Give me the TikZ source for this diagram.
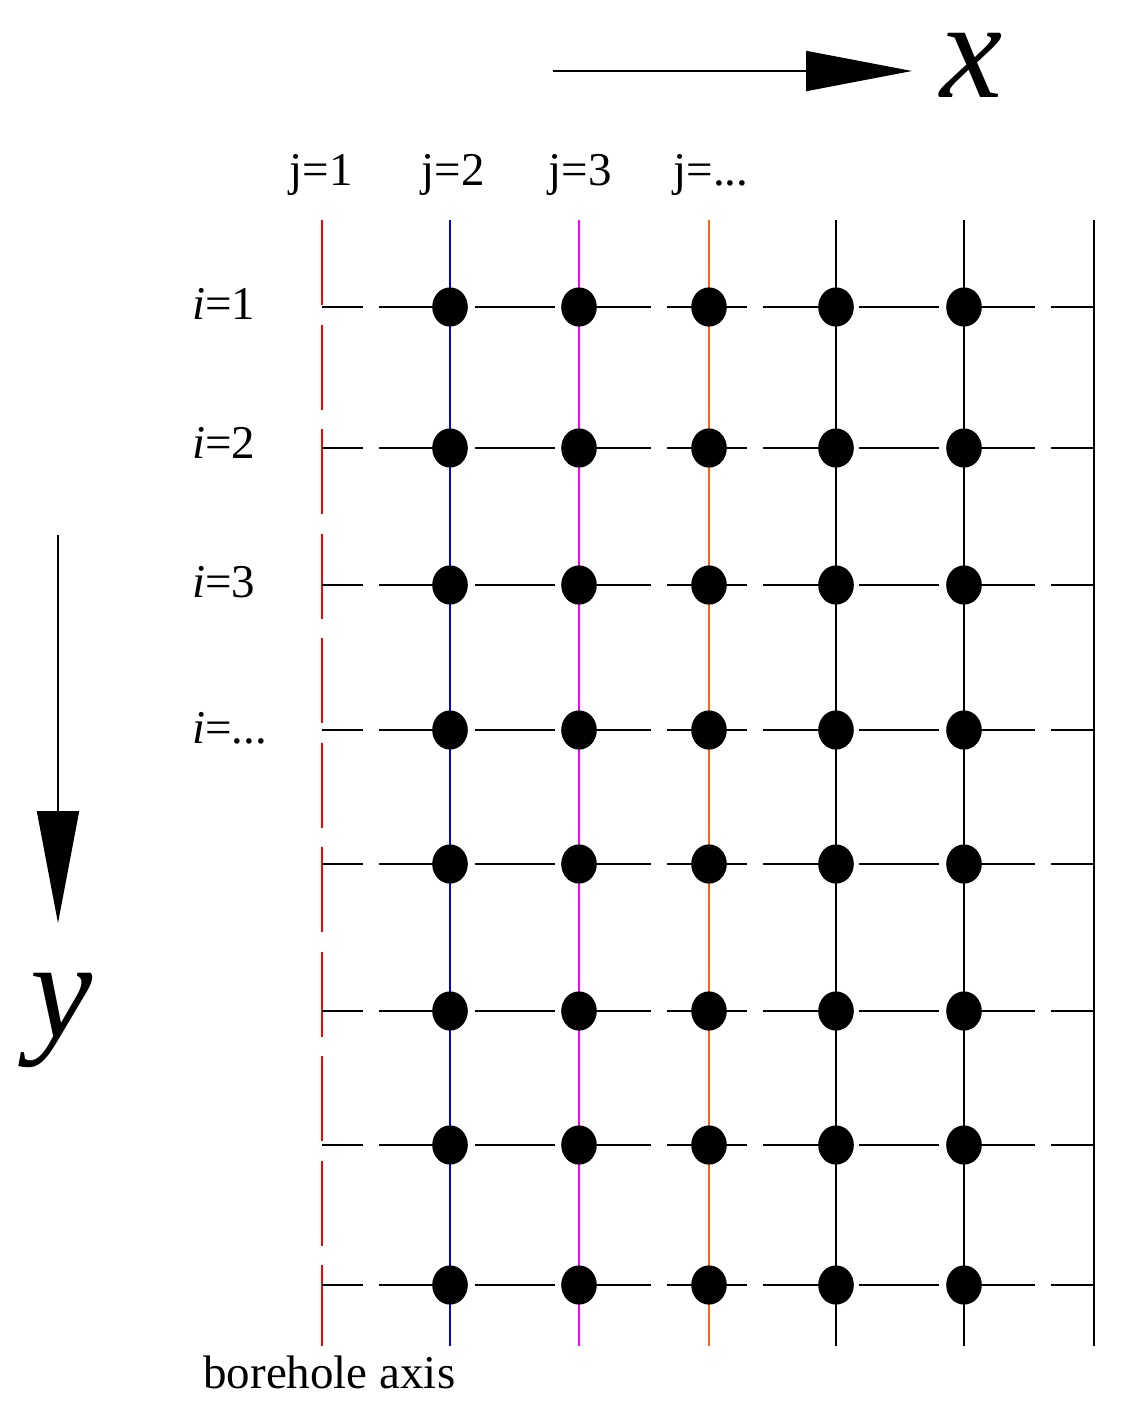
\documentclass[tikz,border=0pt]{standalone}
\usepackage{fontspec}
\setmainfont{Liberation Serif}
\usetikzlibrary{arrows.meta,shapes.geometric}
\definecolor{cred}{RGB}{255,0,0}
\definecolor{cblue}{RGB}{0,0,255}
\definecolor{cmag}{RGB}{255,0,255}
\definecolor{corange}{RGB}{255,100,20}
\tikzset{
  vline/.style={line width=1pt},
  hline/.style={line width=1.1pt, black, dash pattern=on 40pt off 8pt, dash phase=19.5pt},
  axisline/.style={line width=1pt, cred, dash pattern=on 42.5pt off 9.75pt},
  dot/.style={ellipse, fill=black, draw=none, inner sep=0pt, minimum width=17.8pt, minimum height=19.6pt},
  lbl/.style={font=\fontsize{23.5pt}{28pt}\selectfont, inner sep=0pt},
  biglbl/.style={font=\fontsize{70pt}{80pt}\selectfont\itshape, inner sep=0pt, text height=33pt, text depth=16pt},
  axarrow/.style={line width=1pt}
}
\begin{document}
\begin{tikzpicture}[x=0.5pt,y=-0.5pt]
\useasboundingbox (0,0) rectangle (1125,1420);
% column coordinates
\foreach \c/\xx in {1/322,2/450,3/579,4/709,5/836,6/964,7/1094} {
  \coordinate (t\c) at (\xx,220);
  \coordinate (b\c) at (\xx,1346);
}
% row coordinates
\foreach \r/\yy in {1/307,2/448,3/585,4/730,5/864,6/1011,7/1145,8/1285} {
  \coordinate (l\r) at (322,\yy);
  \coordinate (r\r) at (1094,\yy);
}
% vertical lines
\draw[axisline] (t1) -- (b1);
\draw[vline, cblue] (t2) -- (b2);
\draw[vline, cmag] (t3) -- (b3);
\draw[vline, corange] (t4) -- (b4);
\draw[vline, black] (t5) -- (b5);
\draw[vline, black] (t6) -- (b6);
\draw[vline, black] (t7) -- (b7);
% horizontal lines
\foreach \r in {1,...,8} \draw[hline] (l\r) -- (r\r);
% grid points
\foreach \c in {2,...,6} \foreach \r in {1,...,8} \node[dot] (n\r-\c) at (t\c |- l\r) {};
% column labels
\node[lbl, anchor=base] (j1) at (321,185) {j=1};
\node[lbl, anchor=base] (j2) at (453,185) {j=2};
\node[lbl, anchor=base] (j3) at (580,185) {j=3};
\node[lbl, anchor=base] (j4) at (711,185) {j=...};
% row labels
\node[lbl, anchor=base west] (i1) at (192,319) {\textit{i}=1};
\node[lbl, anchor=base west] (i2) at (192,458) {\textit{i}=2};
\node[lbl, anchor=base west] (i3) at (192,597) {\textit{i}=3};
\node[lbl, anchor=base west] (i4) at (192,743) {\textit{i}=...};
% bottom label
\node[lbl, anchor=base west] (bh) at (203,1388) {borehole axis};
% axes
\coordinate (xa) at (553,71);
\coordinate (xb) at (912,71);
\draw[axarrow, -{Triangle[length=53pt,width=20pt]}] (xa) -- (xb);
\node[biglbl, anchor=base] (xl) at (972,97) {x};
\coordinate (ya) at (58,535);
\coordinate (yb) at (58,923);
\draw[axarrow, -{Triangle[length=56pt,width=21pt]}] (ya) -- (yb);
\node[biglbl, anchor=base] (yl) at (62,1037) {y};
\end{tikzpicture}
\end{document}
